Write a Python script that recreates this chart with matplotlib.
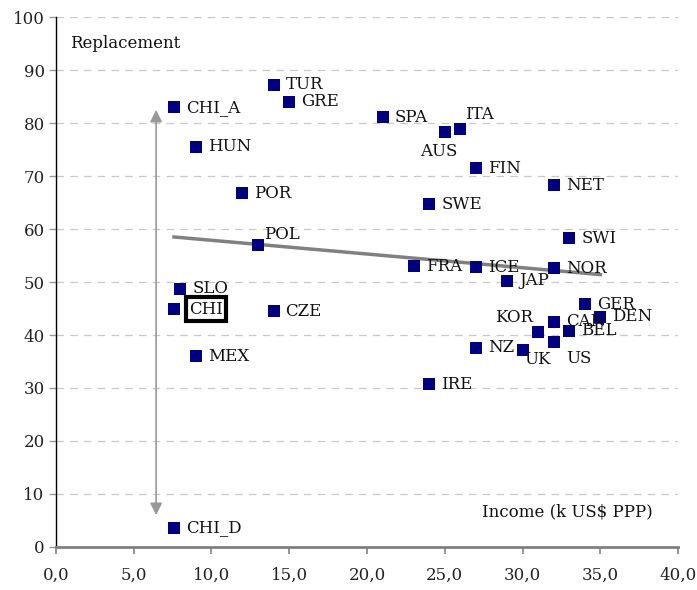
import matplotlib.pyplot as plt

countries = ['CHI_A', 'TUR', 'GRE', 'HUN', 'POR', 'POL', 'SLO', 'CHI', 'CZE', 'MEX', 'CHI_D',
             'SPA', 'AUS', 'ITA', 'FIN', 'NET', 'SWE', 'SWI', 'FRA', 'ICE', 'NOR', 'JAP',
             'GER', 'DEN', 'KOR', 'CAN', 'BEL', 'US', 'UK', 'NZ', 'IRE']
income = [7.6, 14.0, 15.0, 9.0, 12.0, 13.0, 8.0, 7.6, 14.0, 9.0, 7.6,
          21.0, 25.0, 26.0, 27.0, 32.0, 24.0, 33.0, 23.0, 27.0, 32.0, 29.0,
          34.0, 35.0, 31.0, 32.0, 33.0, 32.0, 30.0, 27.0, 24.0]
replacement = [83.0, 87.2, 84.0, 75.5, 66.8, 57.0, 48.7, 44.9, 44.5, 36.0, 3.6,
               81.1, 78.3, 78.9, 71.5, 68.3, 64.7, 58.3, 53.0, 52.8, 52.6, 50.2,
               45.8, 43.4, 40.6, 42.5, 40.8, 38.6, 37.1, 37.6, 30.7]

# trend line end points
trend_x = [7.6, 35.0]
trend_y = [58.5, 51.4]

# label offsets in pixels (default: to the right)
offsets = {
    'AUS': (-6, -19, 'center'),
    'ITA': (5, 14, 'left'),
    'POL': (6, 10, 'left'),
    'KOR': (-5, 14, 'right'),
    'UK': (2, -9, 'left'),
    'US': (12, -16, 'left'),
}

plt.rcParams['font.family'] = 'DejaVu Serif'
fs = 12

fig = plt.figure(figsize=(6.97, 5.9), dpi=100)
ax = fig.add_axes([0.080, 0.073, 0.893, 0.898])

ax.set_xlim(0, 40)
ax.set_ylim(0, 100)

ax.set_yticks(range(0, 101, 10))
ax.set_xticks(range(0, 41, 5))
ax.set_xticklabels([f'{v:.1f}'.replace('.', ',') for v in range(0, 41, 5)])

for y in range(10, 101, 10):
    ax.axhline(y, color='#c8c8c8', lw=0.9, dashes=(6, 5), zorder=0)

ax.spines['top'].set_visible(False)
ax.spines['right'].set_visible(False)
ax.spines['left'].set_color('black')
ax.spines['left'].set_linewidth(1)
ax.spines['bottom'].set_color('#808080')
ax.spines['bottom'].set_linewidth(2)
ax.tick_params(axis='x', colors='#808080', labelcolor='#222222', length=5, width=1.2,
               labelsize=fs, pad=9)
ax.tick_params(axis='y', length=5, width=1, color='#999999', labelcolor='#222222',
               labelsize=fs, pad=3)

ax.plot(trend_x, trend_y, color='#808080', lw=2.5, zorder=2)

ax.annotate('', xy=(6.45, 6.0), xytext=(6.45, 82.5),
            arrowprops=dict(arrowstyle='<|-|>', color='#999999', lw=1.2,
                            mutation_scale=18, shrinkA=0, shrinkB=0))

ax.scatter(income, replacement, marker='s', s=72, color='#000080', zorder=3, linewidths=0)

for name, x, y in zip(countries, income, replacement):
    dx, dy, ha = offsets.get(name, (12, 0, 'left'))
    kw = {}
    if name == 'CHI':
        dx = 15
        kw['bbox'] = dict(boxstyle='square,pad=0.2', fc='none', ec='black', lw=3)
    ax.annotate(name, (x, y), xytext=(dx, dy), textcoords='offset pixels',
                ha=ha, va='center', fontsize=fs, color='#111111', zorder=4, **kw)

ax.text(0.9, 95, 'Replacement', fontsize=fs, va='center', ha='left', color='#111111')
ax.text(27.4, 6.6, 'Income (k US$ PPP)', fontsize=fs, va='center', ha='left', color='#111111')

fig.savefig('out.png', dpi=100)
